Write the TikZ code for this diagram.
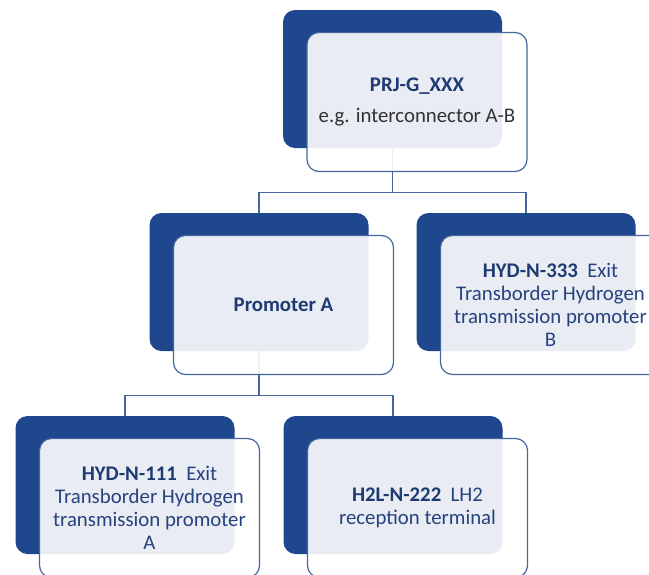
\documentclass[tikz,border=0pt]{standalone}
\usepackage{fontspec}
\setmainfont{Carlito}
\definecolor{darkblue}{RGB}{31,71,141}
\definecolor{lineblue}{RGB}{70,102,160}
\definecolor{textblue}{RGB}{38,66,128}
\definecolor{idblue}{RGB}{30,58,115}
\definecolor{notegray}{RGB}{50,50,55}

\begin{document}
\begin{tikzpicture}[x=1pt, y=1pt, level distance=203pt,
   edge from parent path={(\tikzparentnode.south) -- ++(0,-44pt) -| (\tikzchildnode.north)}]
   \tikzstyle{level 1}=[sibling distance=267pt]
   \tikzstyle{level 2}=[sibling distance=268pt]
   \tikzstyle{darkbox}=[fill=darkblue, rounded corners=12pt, minimum width=219pt, minimum height=138pt, inner sep=0pt]
   \tikzstyle{frontbox}=[draw=lineblue, line width=1.2pt, fill=white, fill opacity=0.9, text opacity=1, rounded corners=12pt, minimum width=220pt, minimum height=139pt, inner sep=0pt, align=center, text=textblue, font=\fontsize{20.8}{23}\selectfont]
   \tikzstyle{edge from parent}=[draw=lineblue, line width=1.3pt]

\useasboundingbox (0,0) rectangle (649,-574);
\clip (0,0) rectangle (649,-574);

\node[darkbox] (prj) at (392.5,-79) {}
    child {node[darkbox] (pa) {}
        child {node[darkbox] (hyd1) {}}
        child {node[darkbox] (h2l) {}}
    }
    child {node[darkbox] (hyd3) {}};

% front boxes on top of the dark ones
\foreach \n/\txt in {
    prj/{\textcolor{idblue}{\textbf{PRJ-G\_XXX}}\\[8pt]\textcolor{notegray}{e.g. interconnector A-B}},
    pa/{\textcolor{idblue}{\textbf{Promoter A}}},
    hyd3/{\textcolor{idblue}{\textbf{HYD-N-333}}\ \ Exit\\Transborder Hydrogen\\transmission promoter\\B},
    hyd1/{\textcolor{idblue}{\textbf{HYD-N-111}}\ \ Exit\\Transborder Hydrogen\\transmission promoter\\A},
    h2l/{\textcolor{idblue}{\textbf{H2L-N-222}}\ \ LH2\\reception terminal}}
    \node[frontbox] (\n-f) at ([shift={(24.5pt,-23pt)}]\n.center) {\txt};

\end{tikzpicture}
\end{document}
